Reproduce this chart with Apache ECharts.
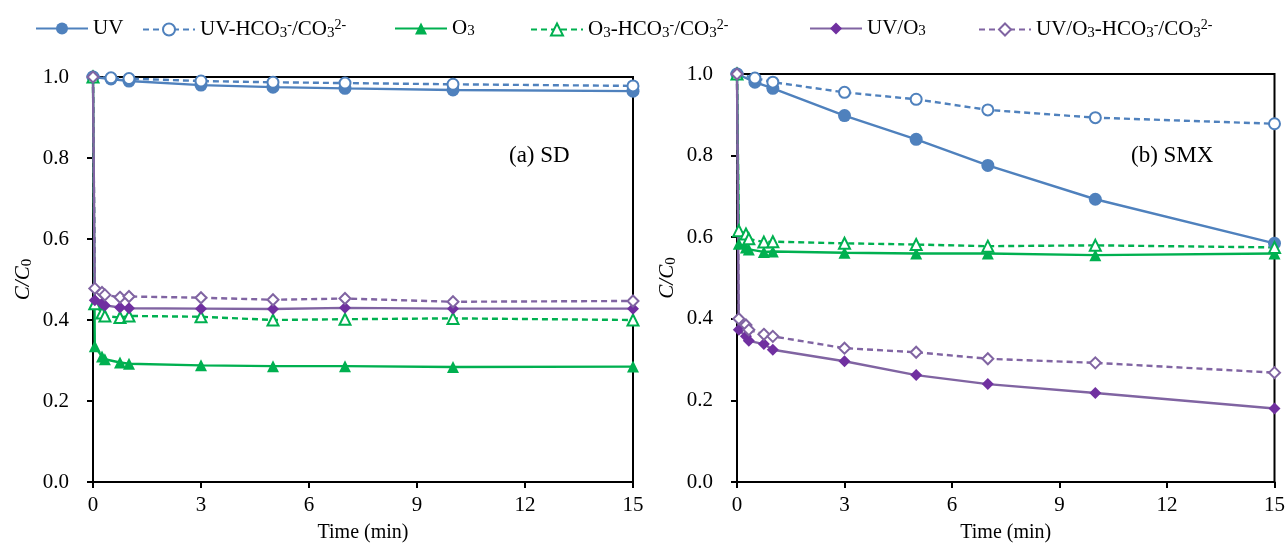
<!DOCTYPE html>
<html>
<head>
<meta charset="utf-8">
<script src="https://cdn.jsdelivr.net/npm/echarts@6/dist/echarts.min.js"></script>
<style>
  html, body { margin: 0; padding: 0; background: #fff; }
  #chart { width: 1288px; height: 548px; }
</style>
</head>
<body>
<div id="chart"></div>
<script>
// sampling times (min)
const timesUV = [0, 0.5, 1, 3, 5, 7, 10, 15];
const timesO3 = [0, 0.05, 0.25, 0.33, 0.75, 1, 3, 5, 7, 10, 15];

// (a) SD
const sdUV = [1.0, 0.995, 0.99, 0.98, 0.975, 0.972, 0.968, 0.965];
const sdUVHCO3 = [1.0, 0.998, 0.996, 0.99, 0.987, 0.985, 0.982, 0.978];
const sdO3 = [1.0, 0.335, 0.31, 0.303, 0.295, 0.292, 0.288, 0.286, 0.286, 0.284, 0.285];
const sdO3HCO3 = [1.0, 0.44, 0.417, 0.41, 0.406, 0.41, 0.408, 0.40, 0.402, 0.404, 0.40];
const sdUVO3 = [1.0, 0.449, 0.441, 0.436, 0.431, 0.429, 0.428, 0.427, 0.43, 0.428, 0.428];
const sdUVO3HCO3 = [1.0, 0.478, 0.468, 0.462, 0.456, 0.458, 0.455, 0.45, 0.453, 0.445, 0.447];

// (b) SMX
const smxUV = [1.0, 0.98, 0.965, 0.898, 0.84, 0.776, 0.693, 0.585];
const smxUVHCO3 = [1.0, 0.99, 0.98, 0.955, 0.938, 0.912, 0.893, 0.878];
const smxO3 = [1.0, 0.584, 0.575, 0.57, 0.564, 0.565, 0.562, 0.56, 0.56, 0.556, 0.56];
const smxO3HCO3 = [1.0, 0.616, 0.608, 0.596, 0.588, 0.589, 0.585, 0.582, 0.578, 0.58, 0.575];
const smxUVO3 = [1.0, 0.373, 0.357, 0.346, 0.338, 0.324, 0.296, 0.262, 0.24, 0.218, 0.18];
const smxUVO3HCO3 = [1.0, 0.40, 0.385, 0.373, 0.362, 0.357, 0.328, 0.318, 0.302, 0.292, 0.268];

const xTicks = [0, 3, 6, 9, 12, 15];
const yTicks = [0, 0.2, 0.4, 0.6, 0.8, 1.0];

const names = ['UV', 'UV-HCO3-/CO32-', 'O3', 'O3-HCO3-/CO32-', 'UV/O3', 'UV/O3-HCO3-/CO32-'];
const legendText = [
  '{n|UV}',
  '{n|UV-HCO}{s|3}{p|-}{n|/CO}{s|3}{p|2-}',
  '{n|O}{s|3}',
  '{n|O}{s|3}{n|-HCO}{s|3}{p|-}{n|/CO}{s|3}{p|2-}',
  '{n|UV/O}{s|3}',
  '{n|UV/O}{s|3}{n|-HCO}{s|3}{p|-}{n|/CO}{s|3}{p|2-}'
];
const legendLeft = [30, 137, 389, 525, 804, 973];

const font = 'Liberation Serif';
const blue = '#4f81bd', green = '#00b050', purpleLine = '#8064a2', purpleFill = '#7030a0';

const styles = [
  { color: blue, line: blue, symbol: 'circle', size: 13, dash: 'solid' },
  { color: blue, line: blue, symbol: 'emptyCircle', size: 11, dash: [6, 4] },
  { color: green, line: green, symbol: 'triangle', size: 12, dash: 'solid' },
  { color: green, line: green, symbol: 'emptyTriangle', size: 11, dash: [6, 4] },
  { color: purpleFill, line: purpleLine, symbol: 'diamond', size: 12, dash: 'solid' },
  { color: purpleLine, line: purpleLine, symbol: 'emptyDiamond', size: 11, dash: [6, 4] }
];

const zip = (xs, ys) => xs.map((x, i) => [x, ys[i]]);
const panelData = [
  [zip(timesUV, sdUV), zip(timesUV, sdUVHCO3), zip(timesO3, sdO3), zip(timesO3, sdO3HCO3), zip(timesO3, sdUVO3), zip(timesO3, sdUVO3HCO3)],
  [zip(timesUV, smxUV), zip(timesUV, smxUVHCO3), zip(timesO3, smxO3), zip(timesO3, smxO3HCO3), zip(timesO3, smxUVO3), zip(timesO3, smxUVO3HCO3)]
];

const series = [];
panelData.forEach((panel, p) => {
  panel.forEach((data, i) => {
    const st = styles[i];
    series.push({
      name: names[i],
      type: 'line',
      xAxisIndex: p,
      yAxisIndex: p,
      data: data,
      symbol: st.symbol,
      symbolSize: st.size,
      showAllSymbol: true,
      animation: false,
      itemStyle: { color: st.color, borderWidth: 1.8 },
      lineStyle: { color: st.line, width: 2.4, type: st.dash }
    });
  });
});

const legends = names.map((n, i) => ({
  data: [n],
  left: legendLeft[i],
  top: 13,
  itemWidth: 52,
  itemHeight: 15,
  itemGap: 4,
  formatter: () => legendText[i],
  textStyle: {
    fontFamily: font,
    color: '#000',
    rich: {
      n: { fontFamily: font, fontSize: 21, color: '#000' },
      s: { fontFamily: font, fontSize: 15, color: '#000', verticalAlign: 'bottom', padding: [6, 0, 0, 0] },
      p: { fontFamily: font, fontSize: 14, color: '#000', verticalAlign: 'top', padding: [0, 0, 9, 0] }
    }
  }
}));

const axisLine = { show: true, onZero: false, lineStyle: { color: '#000', width: 2 } };
const axisTick = { show: true, inside: false, length: 6, lineStyle: { color: '#000', width: 2 } };
const labelStyle = { fontFamily: font, fontSize: 21, color: '#000' };

const makeX = (g) => ({
  type: 'value', gridIndex: g, min: xTicks[0], max: xTicks[xTicks.length - 1], interval: 3,
  axisLine, axisTick, splitLine: { show: false },
  axisLabel: { ...labelStyle, margin: 13 },
  name: 'Time (min)', nameLocation: 'middle', nameGap: 41,
  nameTextStyle: { fontFamily: font, fontSize: 20, color: '#000' }
});
const makeY = (g) => ({
  type: 'value', gridIndex: g, min: yTicks[0], max: yTicks[yTicks.length - 1], interval: 0.2,
  axisLine, axisTick, splitLine: { show: false },
  axisLabel: { ...labelStyle, margin: 24, formatter: v => v.toFixed(1) },
  name: '{i|C/C}{s|0}', nameLocation: 'middle', nameGap: 58,
  nameTextStyle: {
    rich: {
      i: { fontFamily: font, fontSize: 21, fontStyle: 'italic', color: '#000' },
      s: { fontFamily: font, fontSize: 15, color: '#000', verticalAlign: 'bottom', padding: [8, 0, 0, 0] }
    }
  }
});

const chart = echarts.init(document.getElementById('chart'));
chart.setOption({
  backgroundColor: '#fff',
  animation: false,
  legend: legends,
  grid: [
    { left: 93, right: 655, top: 77, bottom: 59, show: true, borderColor: '#000', borderWidth: 2, backgroundColor: 'transparent' },
    { left: 737, right: 11, top: 74, bottom: 59, show: true, borderColor: '#000', borderWidth: 2, backgroundColor: 'transparent' }
  ],
  xAxis: [makeX(0), makeX(1)],
  yAxis: [makeY(0), makeY(1)],
  graphic: [
    { type: 'text', left: 509, top: 144, style: { text: '(a) SD', fontFamily: font, fontSize: 23, fill: '#000' } },
    { type: 'text', left: 1131, top: 144, style: { text: '(b) SMX', fontFamily: font, fontSize: 23, fill: '#000' } }
  ],
  series
});
</script>
</body>
</html>
